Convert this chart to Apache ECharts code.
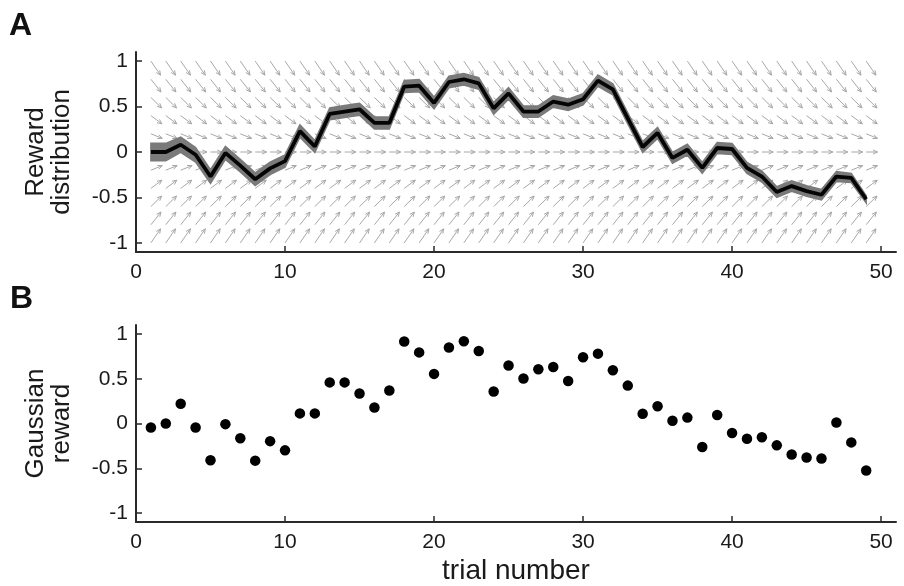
<!DOCTYPE html>
<html>
<head>
<meta charset="utf-8">
<script src="https://cdn.jsdelivr.net/npm/echarts@6/dist/echarts.min.js"></script>
<style>
html,body{margin:0;padding:0;background:#fff;}
#chart{width:904px;height:586px;}
</style>
</head>
<body>
<div id="chart"></div>
<script>
var trials = [1,2,3,4,5,6,7,8,9,10,11,12,13,14,15,16,17,18,19,20,21,22,23,24,25,26,27,28,29,30,31,32,33,34,35,36,37,38,39,40,41,42,43,44,45,46,47,48,49];
var meanReward = [0.00,0.00,0.08,-0.03,-0.27,-0.01,-0.15,-0.30,-0.18,-0.10,0.23,0.06,0.42,0.445,0.47,0.32,0.32,0.72,0.73,0.54,0.77,0.80,0.755,0.48,0.645,0.445,0.445,0.555,0.52,0.58,0.785,0.69,0.37,0.055,0.21,-0.065,0.025,-0.175,0.044,0.033,-0.175,-0.27,-0.44,-0.375,-0.43,-0.47,-0.27,-0.285,-0.52];
var rewardSpread = [0.095,0.095,0.085,0.08,0.075,0.072,0.07,0.07,0.068,0.068,0.068,0.066,0.066,0.066,0.066,0.066,0.066,0.066,0.066,0.064,0.064,0.064,0.064,0.064,0.064,0.062,0.062,0.062,0.062,0.062,0.062,0.06,0.06,0.06,0.06,0.06,0.06,0.06,0.06,0.06,0.06,0.06,0.058,0.058,0.058,0.058,0.055,0.05,0.04];
var gaussianReward = [-0.044,0.0,0.22,-0.044,-0.41,-0.007,-0.164,-0.415,-0.197,-0.30,0.113,0.113,0.459,0.459,0.335,0.178,0.368,0.915,0.794,0.554,0.849,0.918,0.809,0.357,0.648,0.503,0.605,0.63,0.474,0.74,0.78,0.594,0.423,0.109,0.193,0.03,0.066,-0.262,0.095,-0.106,-0.171,-0.153,-0.244,-0.346,-0.379,-0.39,0.011,-0.211,-0.525];
var fieldCols = [1,2,3,4,5,6,7,8,9,10,11,12,13,14,15,16,17,18,19,20,21,22,23,24,25,26,27,28,29,30,31,32,33,34,35,36,37,38,39,40,41,42,43,44,45,46,47,48,49];
var fieldRows = [1,0.8,0.6,0.4,0.2,0,-0.2,-0.4,-0.6,-0.8,-1];
var fieldDx = [0.65,0.68,0.72,0.74,0.76,0.76,0.76,0.74,0.72,0.68,0.65];
var fieldDy = [-0.155,-0.14,-0.115,-0.09,-0.05,0,0.05,0.09,0.115,0.14,0.155];
var xTicks = [0,10,20,30,40,50];
var yTicks = [-1,-0.5,0,0.5,1];

var FONT = "'Liberation Sans', Arial, Helvetica, sans-serif";
var TXT = '#1a1a1a';
var AX = '#2a2a2a';

var fieldData = [];
fieldRows.forEach(function(r, ri){
  fieldCols.forEach(function(c){
    fieldData.push([c, r, fieldDx[ri], fieldDy[ri]]);
  });
});
var lineData = trials.map(function(t,i){return [t, meanReward[i]];});
var dotData = trials.map(function(t,i){return [t, gaussianReward[i]];});

function xAxisCfg(gi, withName){
  var a = {
    type:'value', gridIndex:gi, min:0, max:51, interval:10,
    axisLine:{show:true, onZero:false, lineStyle:{color:AX, width:2}},
    axisTick:{show:true, inside:true, length:6, customValues:xTicks, lineStyle:{color:AX, width:1.5}},
    axisLabel:{show:true, customValues:xTicks, margin:10, fontSize:21, color:TXT, fontFamily:FONT},
    splitLine:{show:false}
  };
  if (withName){
    a.name = 'trial number';
    a.nameLocation = 'middle';
    a.nameGap = 35;
    a.nameTextStyle = {fontSize:28, color:TXT, fontFamily:FONT};
  }
  return a;
}
function yAxisCfg(gi, name){
  return {
    type:'value', gridIndex:gi, min:-1.1, max:1.1,
    name:name, nameLocation:'middle', nameRotate:90, nameGap:61,
    nameTextStyle:{fontSize:26, lineHeight:26, color:TXT, fontFamily:FONT, align:'center'},
    axisLine:{show:true, onZero:false, lineStyle:{color:AX, width:2}},
    axisTick:{show:true, inside:true, length:6, customValues:yTicks, lineStyle:{color:AX, width:1.5}},
    axisLabel:{show:true, customValues:yTicks, margin:8, fontSize:21, color:TXT, fontFamily:FONT},
    splitLine:{show:false}
  };
}

var chart = echarts.init(document.getElementById('chart'), null, {renderer:'canvas'});
chart.setOption({
  backgroundColor:'#ffffff',
  animation:false,
  title:[
    {text:'A', left:9, top:10, padding:0, textStyle:{fontSize:32, fontWeight:'bold', color:'#111', fontFamily:FONT}},
    {text:'B', left:10, top:283, padding:0, textStyle:{fontSize:32, fontWeight:'bold', color:'#111', fontFamily:FONT}}
  ],
  grid:[
    {left:136, right:8, top:52, height:200},
    {left:136, right:8, top:325, height:201.5}
  ],
  xAxis:[xAxisCfg(0,false), xAxisCfg(1,true)],
  yAxis:[yAxisCfg(0,'Reward\ndistribution'), yAxisCfg(1,'Gaussian\nreward')],
  series:[
    {
      type:'custom', name:'field', xAxisIndex:0, yAxisIndex:0, silent:true, z:1,
      data:fieldData, encode:{x:0, y:1},
      renderItem:function(params, api){
        var x=api.value(0), y=api.value(1), dx=api.value(2), dy=api.value(3);
        var p0=api.coord([x,y]), p1=api.coord([x+dx,y+dy]);
        var ang=Math.atan2(p1[1]-p0[1], p1[0]-p0[0]);
        var hl=5, ha=0.42;
        var h1=[p1[0]-hl*Math.cos(ang-ha), p1[1]-hl*Math.sin(ang-ha)];
        var h2=[p1[0]-hl*Math.cos(ang+ha), p1[1]-hl*Math.sin(ang+ha)];
        return {type:'group', children:[
          {type:'line', shape:{x1:p0[0],y1:p0[1],x2:p1[0],y2:p1[1]}, style:{stroke:'#a8a8a8', lineWidth:1}},
          {type:'polyline', shape:{points:[h1,p1,h2]}, style:{stroke:'#a8a8a8', lineWidth:1, fill:null}}
        ]};
      }
    },
    {
      type:'custom', name:'band', xAxisIndex:0, yAxisIndex:0, silent:true, z:2,
      data:lineData, encode:{x:0, y:1},
      renderItem:function(params, api){
        if (params.dataIndex !== 0) return null;
        var pts=[], i;
        for (i=0;i<trials.length;i++) pts.push(api.coord([trials[i], meanReward[i]+rewardSpread[i]]));
        for (i=trials.length-1;i>=0;i--) pts.push(api.coord([trials[i], meanReward[i]-rewardSpread[i]]));
        return {type:'polygon', shape:{points:pts}, style:{fill:'#7a7a7a', stroke:'#7a7a7a', lineWidth:1.5}};
      }
    },
    {
      type:'line', name:'mean', xAxisIndex:0, yAxisIndex:0, z:3,
      data:lineData, showSymbol:false, symbol:'none',
      lineStyle:{color:'#050505', width:3.8}
    },
    {
      type:'scatter', name:'gaussian', xAxisIndex:1, yAxisIndex:1, z:3,
      data:dotData, symbol:'circle', symbolSize:10.5,
      itemStyle:{color:'#000000', opacity:1}
    }
  ]
});
</script>
</body>
</html>
